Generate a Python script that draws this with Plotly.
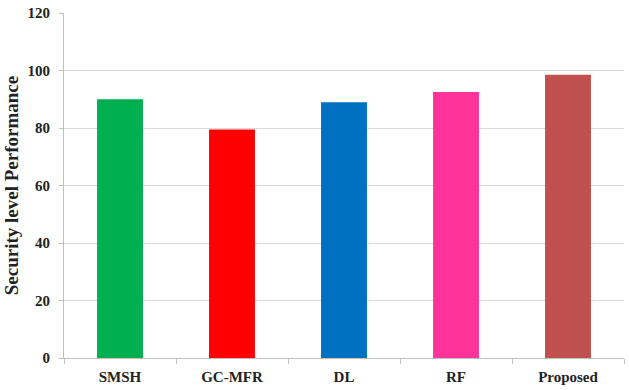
import plotly.graph_objects as go

categories = ["SMSH", "GC-MFR", "DL", "RF", "Proposed"]
values = [90, 79.5, 89, 92.5, 98.5]
colors = ["#00B050", "#FF0000", "#0070C0", "#FF3399", "#C0504D"]
y_ticks = [0, 20, 40, 60, 80, 100, 120]

font_family = "Liberation Serif, Times New Roman, serif"

fig = go.Figure(go.Bar(x=categories, y=values, marker=dict(color=colors, line=dict(width=0)),
                       width=0.41))

fig.update_layout(
    width=629, height=390,
    margin=dict(l=64, r=5, t=9, b=31),
    plot_bgcolor="white", paper_bgcolor="white",
    showlegend=False,
    font=dict(family=font_family, size=15, color="#222222"),
)
fig.update_xaxes(
    showline=True, linecolor="#bfbfbf", linewidth=1,
    ticks="outside", tickson="boundaries", ticklen=5, tickcolor="#bfbfbf",
    ticklabelstandoff=5,
    tickfont=dict(family=font_family, size=15, color="#222222", weight="bold"),
    showgrid=False,
)
fig.update_yaxes(
    range=[0, 120], tickvals=y_ticks,
    showline=True, linecolor="#bfbfbf", linewidth=1,
    ticks="outside", ticklen=4, tickcolor="#bfbfbf",
    ticklabelstandoff=6,
    showgrid=True, gridcolor="#d9d9d9", gridwidth=1,
    zeroline=False,
    tickfont=dict(family=font_family, size=15, color="#222222", weight="bold"),
    title=dict(text="Security level Performance", standoff=3,
               font=dict(family=font_family, size=19, color="#222222", weight="bold")),
)

fig.write_html("out.html")
